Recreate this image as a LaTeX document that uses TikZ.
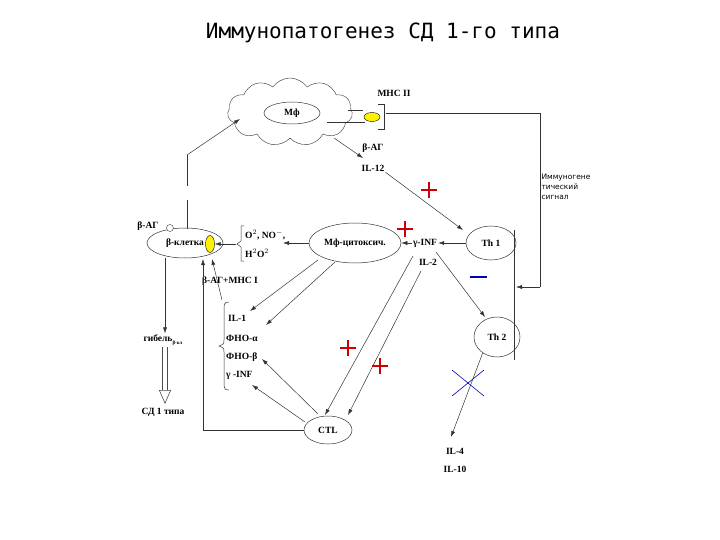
\documentclass[tikz,border=0pt]{standalone}
\usepackage{fontspec}
\setmainfont{Liberation Serif}
\newfontfamily\titlefont{DejaVu Sans Mono}
\newfontfamily\smallsans{DejaVu Sans}
\usetikzlibrary{shapes.symbols,shapes.geometric,arrows.meta,decorations.pathreplacing}
\begin{document}
\begin{tikzpicture}[x=1pt,y=-1pt,
  lab/.style={font=\bfseries\fontsize{9.5}{11}\selectfont,inner sep=1pt},
  arr/.style={draw=black!80,line width=0.5pt,-{Latex[length=6pt,width=4pt]}},
  ln/.style={draw=black!80,line width=0.5pt},
  ell/.style={draw=black!80,ellipse,line width=0.5pt,inner sep=0pt},
  plus/.style={red!80!black,line width=1.4pt},
  yel/.style={draw=black,fill=yellow,ellipse,inner sep=0pt}]
\useasboundingbox (0,0) rectangle (720,540);
\node[font=\titlefont\fontsize{21}{24}\selectfont] (title) at (383,33) {Иммунопатогенез СД 1-го типа};
% cloud
\node[cloud,cloud puffs=11,cloud puff arc=110,draw=black!80,minimum width=125pt,minimum height=68pt,aspect=2] (cloud) at (290,112) {};
\node[ell,minimum width=56pt,minimum height=22pt,lab] (mf) at (292,113) {Mф};
\node[lab] (mhc) at (394,93) {MHC II};
\node[yel,minimum width=16pt,minimum height=9pt] (y1) at (372,117) {};
\draw[ln] (348,110) -- (363,110);
\draw[ln] (327,122) -- (365,122);
\draw[ln] (378,104) -- (384,104) -- (384,129) -- (378,129);
\coordinate (c1) at (386,113);
\coordinate (c2) at (540,113);
\coordinate (c3) at (540,287);
\coordinate (c4) at (516,287);
\draw[ln] (c1) -- (c2) -- (c3);
\draw[arr] (c3) -- (c4);
\node[lab] (bag1) at (373,148) {β-АГ};
\node[lab] (il12) at (373,168) {IL-12};
\draw[arr] (334,138) -- (363,158);
\node[ell,minimum width=50pt,minimum height=34pt,lab] (th1) at (491,243) {Th 1};
\node[ell,minimum width=46pt,minimum height=40pt,lab] (th2) at (497,337) {Th 2};
\draw[ln] (514,230) -- (514,360);
\draw[arr] (il12.south east) -- (463,230);
\node[lab] (ginf) at (425,243) {γ-INF};
\node[lab] (il2) at (428,262) {IL-2};
\node[ell,minimum width=92pt,minimum height=40pt,lab,inner sep=0pt] (mfc) at (355,243) {Mф-цитоксич.};
\draw[arr] (th1.west) -- (ginf.east);
\draw[arr] (ginf.west) -- (mfc.east);
\node[lab,anchor=west] (o2) at (244,235) {O$^2$, NO$^-$,};
\node[lab,anchor=west] (h2o2) at (244,253) {H$^2$O$^2$};
\draw[ln] (244,226) -- (241,226) -- (241,241) -- (237,244) -- (241,247) -- (241,261) -- (244,261);
\draw[arr] (mfc.west) -- (283,243);
\node[ell,minimum width=76pt,minimum height=30pt,lab] (bk) at (185,243) {β-клетка\hspace{14pt}};
\node[yel,minimum width=9pt,minimum height=17pt] (y2) at (210,244) {};
\draw[arr] (236,244) -- (y2.east);
\node[draw=black!80,circle,minimum size=7pt,inner sep=0pt,fill=white] (sc) at (170,228) {};
\node[lab] (bag2) at (148,226) {β-АГ};
\draw[ln] (187,229) -- (187,200);
\draw[ln] (187,186) -- (187,155);
\draw[arr] (187,155) -- (240,119);
\coordinate (g0) at (165,258);
\node[lab] (gib) at (163,340) {гибель\raisebox{-3pt}{\tiny β-кл}};
\draw[arr] (g0) -- (gib.north -| g0);
\node[lab] (sd) at (163,412) {СД 1 типа};
\draw[line width=0.6pt,draw=black!70,double=white,double distance=4pt,-{Triangle[open,length=14pt,width=12pt]}] (165,347) -- (165,404);
\node[lab] (bmhc) at (230,281) {β-АГ+МНС I};
\node[ell,minimum width=48pt,minimum height=28pt,lab] (ctl) at (328,430) {CTL};
\coordinate (f1) at (203,430);
\draw[ln] (ctl.west) -- (f1);
\draw[arr] (f1) -- (203,259);
\draw[arr] (222,300) -- (212,259);
\node[lab,anchor=west] (l1) at (227,318) {IL-1};
\node[lab,anchor=west] (l2) at (225,338) {ФНО-α};
\node[lab,anchor=west] (l3) at (225,357) {ФНО-β};
\node[lab,anchor=west] (l4) at (225,375) {γ -INF};
\draw[ln] (229,302) .. controls (224,302) and (224,304) .. (224,310) -- (224,340) .. controls (224,344) .. (219,346) .. controls (224,348) .. (224,352) -- (224,384) .. controls (224,390) and (226,390) .. (229,390);
\draw[arr] (318,260) -- (250,311);
\draw[arr] (335,262) -- (266,325);
\draw[arr] (318,414) -- (262,359);
\draw[arr] (305,422) -- (252,385);
\draw[arr] (413,256) -- (325,415);
\draw[arr] (421,271) -- (348,415);
\draw[arr] (436,252) -- (485,317);
\node[lab] (il4) at (455,451) {IL-4};
\node[lab] (il10) at (455,469) {IL-10};
\draw[arr] (th2.south west) ++(2,2) -- (451,437);
\draw[blue!70!black,line width=0.6pt] (452,370) -- (484,396) (452,396) -- (484,370);
% plus/minus
\foreach \p in {(429,190),(405,229),(348,348),(380,366)} {\draw[plus] \p ++(-8,0) -- ++(16,0) \p ++(0,-8) -- ++(0,16);}
\draw[blue!70!black,line width=2pt] (470,277) -- (487,277);
\node[font=\smallsans\fontsize{7.5}{10}\selectfont,align=left,anchor=north west] (sig) at (538,170) {Иммуногене\\тический\\сигнал};
\end{tikzpicture}
\end{document}
